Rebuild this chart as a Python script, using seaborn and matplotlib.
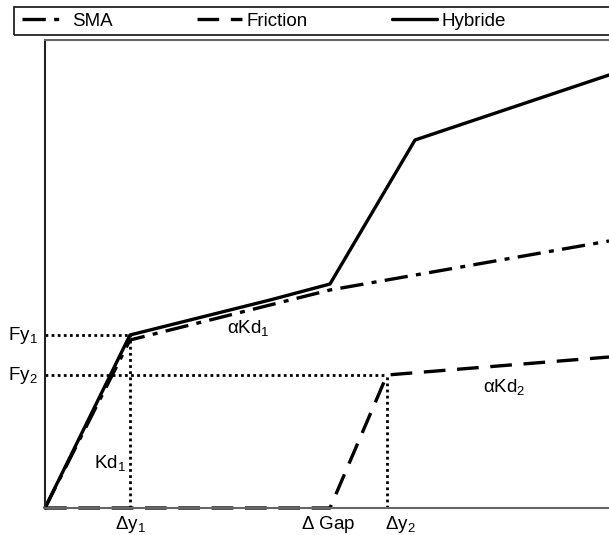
import matplotlib
matplotlib.use("Agg")
import matplotlib.pyplot as plt
import seaborn as sns
import pandas as pd
from matplotlib.lines import Line2D
from matplotlib.patches import Rectangle

sns.set_style("white")
plt.rcParams["font.family"] = ["Liberation Sans", "DejaVu Sans"]
plt.rcParams["text.color"] = "black"
plt.rcParams["mathtext.fontset"] = "custom"
plt.rcParams["mathtext.rm"] = "Liberation Sans"
plt.rcParams["mathtext.it"] = "Liberation Sans"

# Force-displacement backbone curves (arbitrary units)
sma_x = [0, 85, 285, 564]
sma_y = [0, 168, 218, 267]

friction_x = [0, 285, 342, 564]
friction_y = [0, 0, 133, 151]

hybride_x = [0, 85, 225, 285, 370, 564]
hybride_y = [0, 173, 208, 224, 368, 433]

# Yield points and gap
dy1, fy1 = 85, 173
dy2, fy2 = 342, 133
gap = 285

W, H = 609, 535
fig = plt.figure(figsize=(W / 100, H / 100), dpi=100)
ax = fig.add_axes([45 / W, 27 / H, 564 / W, 468 / H])

lw = 2.4
ls_sma = (0, (7, 2.5, 1.5, 2.5))
ls_fric = (0, (6.5, 3.5))
series = [
    ("SMA", sma_x, sma_y, ls_sma),
    ("Friction", friction_x, friction_y, ls_fric),
    ("Hybride", hybride_x, hybride_y, "-"),
]
for name, xs, ys, ls in series:
    df = pd.DataFrame({"x": xs, "y": ys})
    sns.lineplot(data=df, x="x", y="y", sort=False, ax=ax, color="black",
                 linewidth=lw, linestyle=ls, clip_on=False, estimator=None)

# Dotted guide lines
dot = dict(color="black", linewidth=2, linestyle=(0, (1, 1.2)))
ax.plot([0, dy1], [fy1, fy1], **dot)
ax.plot([dy1, dy1], [0, fy1], **dot)
ax.plot([0, dy2], [fy2, fy2], **dot)
ax.plot([dy2, dy2], [0, fy2], **dot)

ax.set_xlim(0, 564)
ax.set_ylim(0, 468)
ax.set_xticks([])
ax.set_yticks([])
ax.set_xlabel("")
ax.set_ylabel("")
for side in ["top", "bottom"]:
    ax.spines[side].set_color("#666666")
    ax.spines[side].set_linewidth(1.5)
ax.spines["left"].set_color("#222222")
ax.spines["left"].set_linewidth(1.5)
ax.spines["right"].set_visible(False)

fs = 13.5
ax.text(-7, fy1, r"$\mathregular{Fy_1}$", ha="right", va="center", fontsize=fs, clip_on=False)
ax.text(-7, fy2, r"$\mathregular{Fy_2}$", ha="right", va="center", fontsize=fs, clip_on=False)
ax.text(dy1, -6, r"$\mathregular{\Delta y_1}$", ha="center", va="top", fontsize=fs, clip_on=False)
ax.text(dy2 + 13, -6, r"$\mathregular{\Delta y_2}$", ha="center", va="top", fontsize=fs, clip_on=False)
ax.text(gap - 2, -6, r"$\mathregular{\Delta\ Gap}$", ha="center", va="top", fontsize=fs, clip_on=False)
ax.text(dy1 - 4, 45, r"$\mathregular{Kd_1}$", ha="right", va="center", fontsize=fs)
ax.text(203, 180, r"$\mathregular{\alpha Kd_1}$", ha="center", va="center", fontsize=fs)
ax.text(459, 121, r"$\mathregular{\alpha Kd_2}$", ha="center", va="center", fontsize=fs)

# Legend strip across the top
handles = [
    Line2D([], [], color="black", linewidth=lw, linestyle=ls_sma),
    Line2D([], [], color="black", linewidth=lw, linestyle=ls_fric),
    Line2D([], [], color="black", linewidth=lw, linestyle="-"),
]
leg = fig.legend(handles, ["SMA", "Friction", "Hybride"], ncol=3, mode="expand",
                 bbox_to_anchor=(22 / W, 1 - 35 / H, (506 - 22) / W, 28 / H),
                 loc="center", frameon=False, fontsize=fs,
                 handlelength=2.4, handletextpad=0.25, borderaxespad=0,
                 borderpad=0)
fig.patches.append(Rectangle((14 / W, 1 - 35 / H), 1.2, 28 / H,
                             transform=fig.transFigure, fill=False,
                             edgecolor="#222222", linewidth=1.3))

fig.savefig("out.png", dpi=100)
